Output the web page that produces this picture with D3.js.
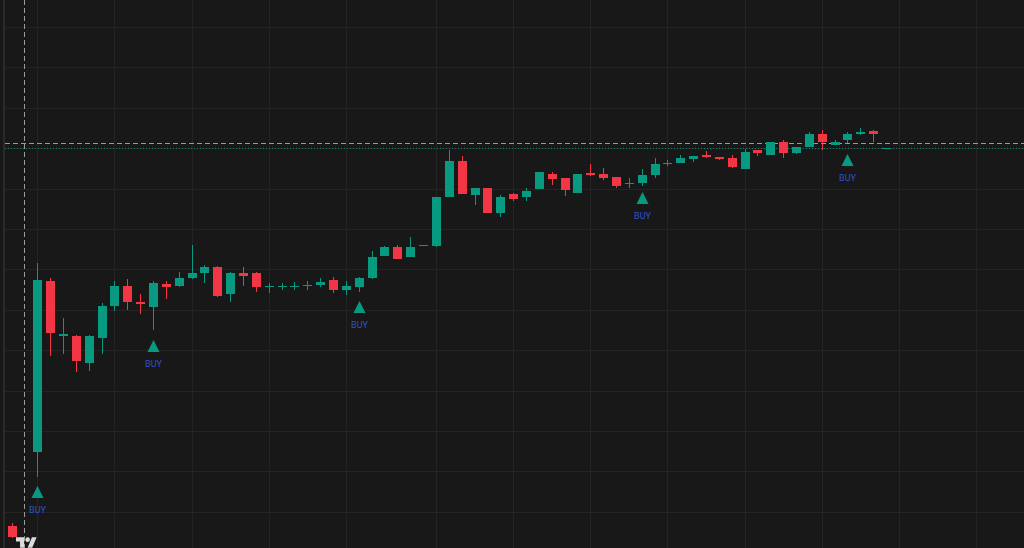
<!DOCTYPE html>
<html><head><meta charset="utf-8">
<script src="https://cdn.jsdelivr.net/npm/d3@7"></script>
<style>html,body{margin:0;padding:0;background:#181818;overflow:hidden}svg{display:block}</style>
</head><body>
<svg id="c" width="1024" height="548"></svg>
<script>
// bar positions (bar -1 lies below the visible pane)
const barIndex = [-2, ...d3.range(0, 67)];
const open = [2.2,
  9.6, 26.7, 21.2, 21.2, 18.5, 21.0, 24.2, 26.2, 24.6, 24.1,
  26.4, 26.2, 27.0, 27.5, 28.1, 25.4, 27.5, 27.5, 26.1, 26.1,
  26.15, 26.2, 26.3, 26.8, 25.8, 26.1, 27.0, 29.2, 30.1, 29.1,
  30.25, 30.2, 35.1, 38.7, 35.3, 36.0, 33.5, 35.35, 35.1, 35.9,
  37.4, 37.0, 35.5, 37.55, 37.35, 37.1, 36.5, 36.5, 37.3, 38.5,
  38.55, 38.9, 39.3, 39.13, 38.95, 37.9, 39.8, 39.3, 40.57, 39.53,
  40.13, 41.4, 40.3, 40.8, 41.4, 41.7, 39.95];
const high = [2.5,
  28.5, 27.0, 23.0, 21.3, 21.3, 24.5, 26.7, 26.9, 25.4, 26.7,
  26.7, 27.6, 30.3, 28.3, 28.2, 27.6, 28.1, 27.6, 26.5, 26.5,
  26.6, 26.7, 27.0, 27.1, 26.7, 27.1, 29.7, 30.2, 30.3, 31.1,
  30.3, 35.1, 39.8, 39.2, 36.0, 36.0, 35.3, 35.45, 36.0, 37.6,
  37.6, 37.0, 37.4, 38.4, 38.0, 37.1, 37.0, 37.9, 39.0, 38.8,
  39.3, 39.2, 39.7, 39.15, 39.3, 39.9, 39.8, 40.6, 40.8, 40.15,
  41.63, 41.8, 40.8, 41.63, 41.97, 41.75, 39.95];
const low = [1.0,
  7.1, 19.2, 19.4, 17.6, 17.7, 19.4, 23.7, 23.8, 23.4, 21.8,
  24.9, 26.1, 26.9, 26.5, 25.1, 24.6, 26.2, 25.6, 25.5, 25.8,
  25.8, 25.8, 26.1, 25.5, 25.3, 25.6, 26.9, 29.2, 28.9, 29.1,
  30.2, 30.1, 35.1, 35.4, 34.3, 33.5, 33.1, 34.7, 34.7, 35.9,
  36.3, 35.2, 35.5, 37.2, 36.8, 36.0, 36.0, 36.2, 37.0, 38.2,
  38.5, 38.6, 39.0, 38.8, 38.05, 37.9, 39.23, 39.3, 38.97, 39.37,
  40.13, 39.8, 40.3, 40.47, 41.3, 40.57, 39.95];
const close = [1.1,
  26.8, 21.5, 21.4, 18.7, 21.2, 24.2, 26.2, 24.6, 24.4, 26.5,
  26.1, 27.0, 27.5, 28.1, 25.2, 27.5, 27.2, 26.1, 26.2, 26.2,
  26.25, 26.3, 26.6, 25.8, 26.2, 27.0, 29.1, 30.1, 28.9, 30.1,
  30.3, 35.1, 38.7, 35.4, 36.0, 33.5, 35.1, 34.9, 35.7, 37.6,
  36.9, 35.8, 37.4, 37.3, 37.05, 36.2, 36.55, 37.3, 38.4, 38.55,
  38.95, 39.2, 39.07, 38.9, 38.07, 39.57, 39.47, 40.57, 39.47, 40.13,
  41.4, 40.57, 40.57, 41.4, 41.63, 41.4, 39.95];

// BUY signals
const buyIndex = [0, 9, 25, 47, 63];
const buyLevel = [6.2, 20.8, 24.7, 35.6, 39.4];
const buyText = "BUY";

// grid (price ticks and time ticks in bar units)
const priceTicks = [52.1, 48.06, 44.02, 39.98, 35.94, 31.9, 27.86, 23.82, 19.78, 15.74, 11.7, 7.66, 3.62];
const timeTicks = [0, 6, 12, 18, 24, 31, 37, 43, 49, 55, 61, 67, 73];

// crosshair
const crossBar = -1.03;
const crossPrice = 40.47;

const W = 1024, H = 548;
const UP = "#089981", DOWN = "#f23645";
const svg = d3.select("#c");

const x = d3.scaleLinear().domain([0, 66]).range([37.3, 886]);
const y = d3.scaleLinear().domain([0, 54.8]).range([548, 0]);

svg.append("rect").attr("width", W).attr("height", H).attr("fill", "#181818");
svg.append("rect").attr("x", 3).attr("y", 0).attr("width", 2).attr("height", H).attr("fill", "#2a2a2a");

const grid = svg.append("g").attr("stroke", "#242424").attr("stroke-width", 1);
grid.selectAll("line.h").data(priceTicks).join("line").attr("class", "h")
  .attr("x1", 5).attr("x2", W)
  .attr("y1", d => Math.round(y(d)) + 0.5).attr("y2", d => Math.round(y(d)) + 0.5);
grid.selectAll("line.v").data(timeTicks).join("line").attr("class", "v")
  .attr("y1", 0).attr("y2", H)
  .attr("x1", d => Math.round(x(d)) + 0.5).attr("x2", d => Math.round(x(d)) + 0.5);

// last price line
const lastClose = close[close.length - 1];
svg.append("line").attr("x1", 5).attr("x2", W)
  .attr("y1", Math.round(y(lastClose)) + 0.5).attr("y2", Math.round(y(lastClose)) + 0.5)
  .attr("stroke", UP).attr("stroke-opacity", 0.85).attr("stroke-dasharray", "1,2");

// crosshair
svg.append("line").attr("x1", 5).attr("x2", W)
  .attr("y1", Math.round(y(crossPrice)) + 0.5).attr("y2", Math.round(y(crossPrice)) + 0.5)
  .attr("stroke", "#9a9a9a").attr("stroke-dasharray", "5,3");
svg.append("line").attr("y1", 0).attr("y2", H)
  .attr("x1", Math.round(x(crossBar)) + 0.5).attr("x2", Math.round(x(crossBar)) + 0.5)
  .attr("stroke", "#9a9a9a").attr("stroke-dasharray", "5,3");

// candles
const data = barIndex.map((b, i) => ({b, o: open[i], h: high[i], l: low[i], c: close[i]}));
const g = svg.append("g");
const cg = g.selectAll("g").data(data).join("g")
  .attr("fill", d => d.c >= d.o ? UP : DOWN);
cg.append("rect")
  .attr("x", d => Math.round(x(d.b)))
  .attr("width", 1)
  .attr("y", d => Math.round(y(d.h)))
  .attr("height", d => Math.max(1, Math.round(y(d.l)) - Math.round(y(d.h))));
cg.append("rect")
  .attr("x", d => Math.round(x(d.b)) - 4)
  .attr("width", 9)
  .attr("y", d => Math.round(y(Math.max(d.o, d.c))))
  .attr("height", d => Math.max(1, Math.round(y(Math.min(d.o, d.c))) - Math.round(y(Math.max(d.o, d.c)))));

// BUY markers
const mk = svg.append("g").selectAll("g").data(buyIndex.map((b, i) => ({b, v: buyLevel[i]}))).join("g")
  .attr("transform", d => `translate(${Math.round(x(d.b)) + 0.5},${Math.round(y(d.v))})`);
mk.append("path").attr("d", "M0,0L6,12L-6,12Z").attr("fill", UP);
mk.append("text").attr("y", 27).attr("text-anchor", "middle")
  .attr("font-family", "Roboto, 'Noto Sans', sans-serif").attr("font-size", 9)
  .attr("fill", "#2d52d2").text(buyText);

// TradingView logo
const logo = svg.append("g").attr("transform", "translate(16,535) scale(0.58)").attr("fill", "#dcdcdc");
logo.append("path").attr("d", "M14 22H7V11H0V4h14v18zM28 22h-8l7.5-18h8L28 22z");
logo.append("circle").attr("cx", 20).attr("cy", 8).attr("r", 4);
</script>
</body></html>
